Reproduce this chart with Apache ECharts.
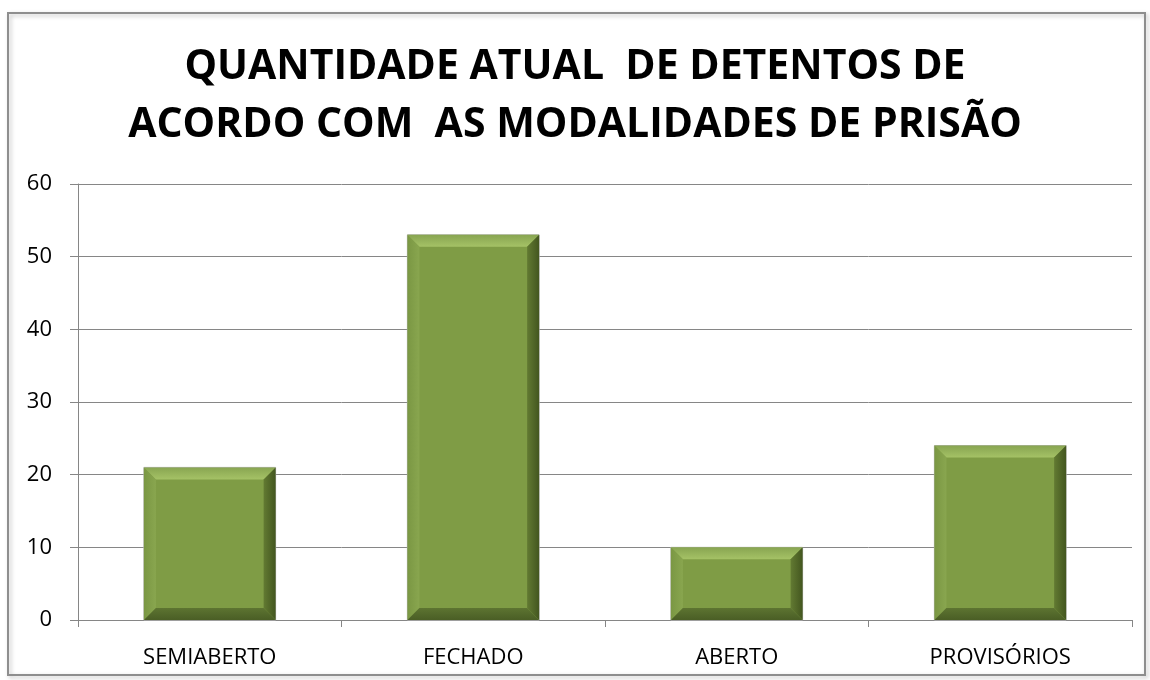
<!DOCTYPE html>
<html>
<head>
<meta charset="utf-8">
<script src="https://cdn.jsdelivr.net/npm/echarts@6/dist/echarts.min.js"></script>
<style>
  html, body { margin: 0; padding: 0; background: #fff; }
  #chart { width: 1150px; height: 680px; }
</style>
</head>
<body>
<div id="chart"></div>
<script>
const categories = ['SEMIABERTO', 'FECHADO', 'ABERTO', 'PROVISÓRIOS']
const values = [21, 53, 10, 24]
const yTicks = { min: 0, max: 60, interval: 10 }

const chart = echarts.init(document.getElementById('chart'))

// bar with bevelled edges, drawn from the axis coordinates
const renderBevelBar = (params, api) => {
  const idx = api.value(0)
  const top = api.coord([idx, api.value(1)])
  const base = api.coord([idx, 0])
  const w = api.size([1, 0])[0] * 0.5
  const x0 = top[0] - w / 2
  const x1 = top[0] + w / 2
  const y0 = top[1]
  const y1 = base[1]
  const b = Math.min(12, (y1 - y0) / 2)
  return {
    type: 'group',
    children: [
      { type: 'rect', shape: { x: x0, y: y0, width: w, height: y1 - y0 }, style: { fill: '#7f9c45', stroke: '#b5b5b5', lineWidth: 1 } },
      { type: 'polygon', shape: { points: [[x0, y0], [x1, y0], [x1 - b, y0 + b], [x0 + b, y0 + b]] },
        style: { fill: new echarts.graphic.LinearGradient(0, 0, 0, 1, [{ offset: 0, color: '#88a551' }, { offset: 1, color: '#a5c266' }]) } },
      { type: 'polygon', shape: { points: [[x0, y0], [x0 + b, y0 + b], [x0 + b, y1 - b], [x0, y1]] },
        style: { fill: new echarts.graphic.LinearGradient(0, 0, 1, 0, [{ offset: 0, color: '#7a9743' }, { offset: 1, color: '#89a64f' }]) } },
      { type: 'polygon', shape: { points: [[x1, y0], [x1, y1], [x1 - b, y1 - b], [x1 - b, y0 + b]] },
        style: { fill: new echarts.graphic.LinearGradient(0, 0, 1, 0, [{ offset: 0, color: '#627a32' }, { offset: 1, color: '#43561f' }]) } },
      { type: 'polygon', shape: { points: [[x0, y1], [x0 + b, y1 - b], [x1 - b, y1 - b], [x1, y1]] },
        style: { fill: new echarts.graphic.LinearGradient(0, 0, 0, 1, [{ offset: 0, color: '#5d7431' }, { offset: 1, color: '#4a5e25' }]) } }
    ]
  }
}

chart.setOption({
  animation: false,
  backgroundColor: '#fff',
  textStyle: { fontFamily: 'Open Sans' },
  graphic: [
    {
      type: 'rect',
      shape: { x: 8, y: 13, width: 1137, height: 662 },
      style: { fill: 'none', stroke: '#8e8e8e', lineWidth: 2, shadowBlur: 4, shadowColor: 'rgba(0,0,0,0.25)', shadowOffsetX: 2, shadowOffsetY: 2 },
      z: -1
    }
  ],
  title: {
    text: 'QUANTIDADE ATUAL  DE DETENTOS DE\nACORDO COM  AS MODALIDADES DE PRISÃO',
    left: 'center',
    top: 38,
    padding: [0, 0, 0, 14],
    textStyle: { fontFamily: 'Open Sans', fontWeight: 'bold', fontSize: 41, lineHeight: 58, color: '#000' }
  },
  grid: { left: 78, right: 18, top: 184, bottom: 60, containLabel: false },
  xAxis: {
    type: 'category',
    data: categories,
    axisLine: { lineStyle: { color: '#868686', width: 1 } },
    axisTick: { show: true, length: 7, alignWithLabel: false, lineStyle: { color: '#868686' } },
    axisLabel: { color: '#000', fontSize: 22, margin: 27 }
  },
  yAxis: {
    type: 'value',
    min: yTicks.min,
    max: yTicks.max,
    interval: yTicks.interval,
    axisLine: { show: true, lineStyle: { color: '#868686' } },
    axisTick: { show: true, length: 8, lineStyle: { color: '#868686' } },
    axisLabel: { color: '#000', fontSize: 22, margin: 26 },
    splitLine: { lineStyle: { color: '#868686', width: 1 } }
  },
  series: [
    {
      type: 'custom',
      renderItem: renderBevelBar,
      encode: { x: 0, y: 1 },
      data: values.map((v, i) => [i, v])
    }
  ]
})
</script>
</body>
</html>
